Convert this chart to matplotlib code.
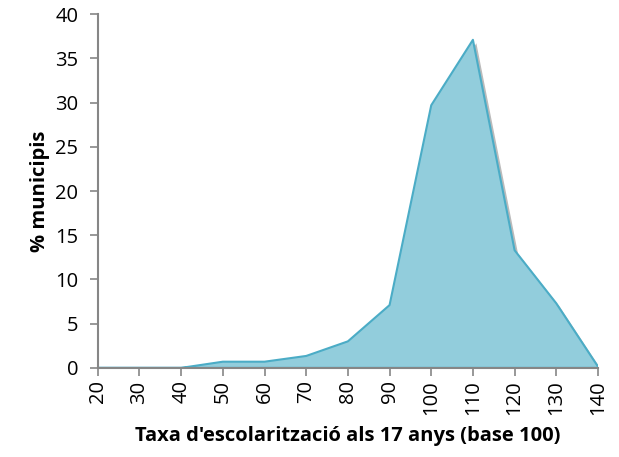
import numpy as np
import matplotlib.pyplot as plt
import matplotlib.patheffects as pe

plt.rcParams['font.family'] = ['Open Sans', 'DejaVu Sans']

# data
taxa = [20, 30, 40, 50, 60, 70, 80, 90, 100, 110, 120, 130, 140]
pct_municipis = [0, 0, 0, 0.7, 0.7, 1.35, 3.0, 7.1, 29.7, 37.1, 13.3, 7.3, 0.15]

fill_color = '#92CDDC'
edge_color = '#4BACC6'
axis_color = '#868686'

fig = plt.figure(figsize=(6.19, 4.57), dpi=100)
ax = fig.add_axes([0.158, 0.195, 0.808, 0.774])

ax.fill_between(taxa, pct_municipis, 0, facecolor=fill_color, edgecolor=edge_color, lw=1.5,
                path_effects=[pe.withSimplePatchShadow(offset=(2.5, -2.5), shadow_rgbFace='#555555', alpha=0.4)])

ax.set_xlim(20, 140)
ax.set_ylim(0, 40)
ax.set_xticks(taxa)
ax.set_xticklabels([str(t) for t in taxa], rotation=90)
ax.set_yticks(np.arange(0, 41, 5))

for s in ['top', 'right']:
    ax.spines[s].set_visible(False)
for s in ['left', 'bottom']:
    ax.spines[s].set_color(axis_color)
    ax.spines[s].set_linewidth(1.5)
ax.tick_params(axis='both', colors=axis_color, labelcolor='black', labelsize=14.5, length=6, width=1.2)
ax.tick_params(axis='y', pad=8)
ax.tick_params(axis='x', pad=3)

ax.set_ylabel('% municipis', fontsize=14.5, fontweight='bold', labelpad=4)
ax.set_xlabel("Taxa d'escolarització als 17 anys (base 100)", fontsize=14.5, fontweight='bold', labelpad=8)

fig.savefig('out.png', dpi=100)
